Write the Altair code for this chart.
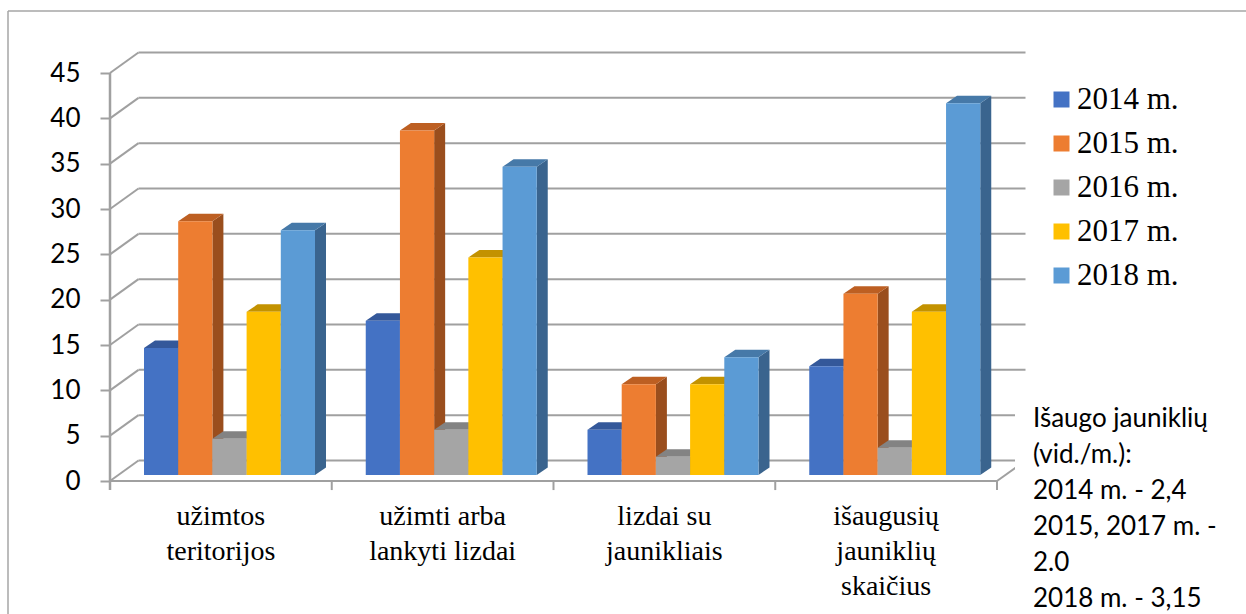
import altair as alt
import pandas as pd

# ---------------- data ----------------
categories = ["užimtos\nteritorijos", "užimti arba\nlankyti lizdai",
              "lizdai su\njaunikliais", "išaugusių\njauniklių\nskaičius"]
years = ["2014 m.", "2015 m.", "2016 m.", "2017 m.", "2018 m."]
v2014 = [14, 17, 5, 12]
v2015 = [28, 38, 10, 20]
v2016 = [4, 5, 2, 3]
v2017 = [18, 24, 10, 18]
v2018 = [27, 34, 13, 41]
series = [v2014, v2015, v2016, v2017, v2018]
y_ticks = [0, 5, 10, 15, 20, 25, 30, 35, 40, 45]
note_lines = ["Išaugo jauniklių", "(vid./m.):", "2014 m. - 2,4",
              "2015, 2017 m. -", "2.0", "2018 m. - 3,15"]

front_colors = ["#4472C4", "#ED7D31", "#A5A5A5", "#FFC000", "#5B9BD5"]
top_colors = ["#34589A", "#BD5F22", "#838383", "#C39200", "#4679A8"]
side_colors = ["#2C4C86", "#9A4E1D", "#6E6E6E", "#A37A00", "#3A648E"]

SERIF = "Liberation Serif, Times New Roman, serif"
SANS = "Lato, Open Sans, sans-serif"

# ---------------- layout (3-D projection) ----------------
W, H = 917, 429
LEFT, TOP = 110, 52
UNIT = 408 / 45.0            # px per value unit
YMAX = H / UNIT
AXIS_LEN = 887
BAND = AXIS_LEN / 4.0
WALL_DX, WALL_DY = 28.5, 20.5 / UNIT
BAR_START, BAR_W = 34, 34.2
BAR_BASE = 6 / UNIT
BAR_DX, BAR_DY = 11, 7.5 / UNIT
GRID = "#a0a0a0"

xs = alt.Scale(domain=[0, W], nice=False, zero=False)
ys = alt.Scale(domain=[0, YMAX], nice=False, zero=False)

yaxis = alt.Axis(values=y_ticks, title=None, domain=False, grid=False,
                 tickSize=10, tickColor=GRID, tickWidth=2,
                 labelFont=SANS, labelFontSize=26, labelColor="black",
                 labelPadding=20)

# bars
fr, sd, tp = [], [], []
for j, (yr, vals) in enumerate(zip(years, series)):
    for i, v in enumerate(vals):
        x0 = i * BAND + BAR_START + j * BAR_W
        x1 = x0 + BAR_W
        y0, y1 = BAR_BASE, BAR_BASE + v
        bid = f"{i}-{j}"
        fr.append(dict(year=yr, x0=x0, x1=x1, y0=y0, y1=y1, value=v))
        sd.append(dict(id=bid, year=yr, x=x1, lo=y0, hi=y1))
        sd.append(dict(id=bid, year=yr, x=x1 + BAR_DX, lo=y0 + BAR_DY, hi=y1 + BAR_DY))
        tp.append(dict(id=bid, year=yr, y=y1, xl=x0, xr=x1))
        tp.append(dict(id=bid, year=yr, y=y1 + BAR_DY, xl=x0 + BAR_DX, xr=x1 + BAR_DX))
front_df, side_df, top_df = pd.DataFrame(fr), pd.DataFrame(sd), pd.DataFrame(tp)

# frame lines (walls, floor, front axis)
lines = []
for v in y_ticks:
    lines.append(dict(x0=WALL_DX, x1=AXIS_LEN + WALL_DX, y0=v + WALL_DY, y1=v + WALL_DY))
    lines.append(dict(x0=0, x1=WALL_DX, y0=v, y1=v + WALL_DY))
lines.append(dict(x0=AXIS_LEN, x1=AXIS_LEN + WALL_DX, y0=0, y1=WALL_DY))
lines.append(dict(x0=0, x1=AXIS_LEN, y0=0, y1=0))
lines_df = pd.DataFrame(lines)

vticks_df = pd.DataFrame({"x": [i * BAND for i in range(5)],
                          "y0": [0.0] * 5, "y1": [-1.0] * 5})
vaxis_df = pd.DataFrame({"x": [0.0], "y0": [-1.0], "y1": [45.0]})

cat_df = pd.DataFrame({"x": [(i + 0.5) * BAND for i in range(4)], "label": categories})
one = pd.DataFrame({"a": [0]})

frame = alt.Chart(lines_df).mark_rule(color=GRID, strokeWidth=2).encode(
    x=alt.X("x0:Q", scale=xs, axis=None), x2="x1:Q",
    y=alt.Y("y0:Q", scale=ys, axis=yaxis), y2="y1:Q")

vticks = alt.Chart(vticks_df).mark_rule(color=GRID, strokeWidth=2).encode(
    x=alt.X("x:Q", scale=xs, axis=None),
    y=alt.Y("y0:Q", scale=ys, axis=yaxis), y2="y1:Q")

vaxis = alt.Chart(vaxis_df).mark_rule(color=GRID, strokeWidth=2.5).encode(
    x=alt.X("x:Q", scale=xs, axis=None),
    y=alt.Y("y0:Q", scale=ys, axis=yaxis), y2="y1:Q")

sides = alt.Chart(side_df).mark_area(orient="vertical").encode(
    x=alt.X("x:Q", scale=xs, axis=None),
    y=alt.Y("lo:Q", scale=ys, axis=yaxis), y2="hi:Q",
    detail="id:N",
    color=alt.Color("year:N", scale=alt.Scale(domain=years, range=side_colors), legend=None))

tops = alt.Chart(top_df).mark_area(orient="horizontal").encode(
    y=alt.Y("y:Q", scale=ys, axis=yaxis),
    x=alt.X("xl:Q", scale=xs, axis=None), x2="xr:Q",
    detail="id:N",
    color=alt.Color("year:N", scale=alt.Scale(domain=years, range=top_colors), legend=None))

fronts = alt.Chart(front_df).mark_rect().encode(
    x=alt.X("x0:Q", scale=xs, axis=None), x2="x1:Q",
    y=alt.Y("y0:Q", scale=ys, axis=yaxis), y2="y1:Q",
    color=alt.Color("year:N", scale=alt.Scale(domain=years, range=front_colors),
                    legend=alt.Legend(title=None, orient="none", legendX=936, legendY=32,
                                      symbolType="square", symbolSize=256,
                                      symbolStrokeWidth=0, labelFont=SERIF,
                                      labelFontSize=31, labelColor="black", labelOffset=0,
                                      rowPadding=12, padding=0, labelLimit=300)))

white_box = alt.Chart(one).mark_rect(color="white").encode(
    x=alt.value(1015 - LEFT), x2=alt.value(1246 - LEFT),
    y=alt.value(395 - TOP), y2=alt.value(614 - TOP))

note = alt.Chart(one).mark_text(text=note_lines, font=SANS, fontSize=26, lineHeight=36,
                                align="left", baseline="alphabetic", color="black").encode(
    x=alt.value(1033 - LEFT), y=alt.value(427 - TOP))

cat_text = alt.Chart(cat_df).mark_text(font=SERIF, fontSize=28, lineBreak="\n",
                                       lineHeight=35, align="center", baseline="alphabetic",
                                       color="black").encode(
    x=alt.X("x:Q", scale=xs, axis=None), y=alt.value(525 - TOP), text="label:N")

border_l = alt.Chart(one).mark_rule(color="#a6a6a6", strokeWidth=1.5).encode(
    x=alt.value(8 - LEFT), y=alt.value(11 - TOP), y2=alt.value(700))
border_t = alt.Chart(one).mark_rule(color="#a6a6a6", strokeWidth=1.5).encode(
    x=alt.value(8 - LEFT), x2=alt.value(1400), y=alt.value(11 - TOP))

chart = alt.layer(border_l, border_t, frame, vticks, vaxis, sides, tops, fronts,
                  white_box, note, cat_text
                  ).resolve_scale(color="independent").properties(
    width=W, height=H,
    padding={"left": LEFT, "top": TOP, "right": 1246 - LEFT - W, "bottom": 614 - TOP - H},
    autosize=alt.AutoSizeParams(type="none"),
    background="white",
).configure_view(stroke=None)

chart.save("out.html", embed_options={"renderer": "svg", "actions": False})
